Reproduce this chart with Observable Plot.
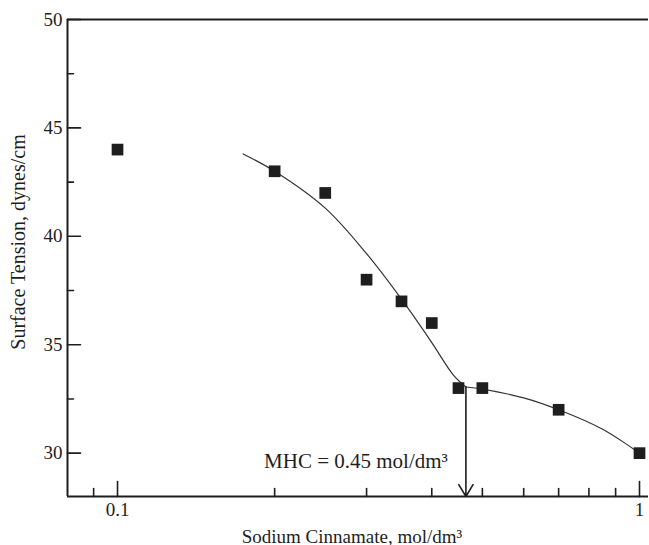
<!DOCTYPE html>
<html><head><meta charset="utf-8">
<script src="https://cdn.jsdelivr.net/npm/d3@7"></script>
<script src="https://cdn.jsdelivr.net/npm/@observablehq/plot@0.6"></script>
<style>
html,body{margin:0;padding:0;background:#fff;}
#chart svg{display:block;}
</style></head><body><div id="chart"></div>
<script>
// measured data (squares)
const concentration = [0.1, 0.2, 0.25, 0.3, 0.35, 0.4, 0.45, 0.5, 0.7, 1.0];
const surfaceTension = [44, 43, 42, 38, 37, 36, 33, 33, 32, 30];
// fitted curve (two branches meeting at the MHC)
const fitLowX = [0.174, 0.2, 0.25, 0.3, 0.35, 0.4, 0.44, 0.465];
const fitLowY = [43.8, 43.0, 41.3, 39.2, 37.1, 35.1, 33.6, 33.05];
const fitHighX = [0.465, 0.5, 0.6, 0.7, 0.85, 1.0];
const fitHighY = [33.05, 32.95, 32.55, 32.0, 31.1, 30.0];
// MHC annotation
const mhcX = 0.465;
const mhcLabel = "MHC = 0.45 mol/dm³";
// axes
const xDomain = [0.0802, 1.0405];
const yDomain = [28, 50];
const xMajorTicks = [0.1, 1];
const xMinorTicks = [0.09, 0.2, 0.3, 0.4, 0.5, 0.6, 0.7, 0.8, 0.9];
const yMajorTicks = [30, 35, 40, 45, 50];
const yMinorTicks = [32.5, 37.5, 42.5, 47.5];
const xTitle = "Sodium Cinnamate, mol/dm³";
const yTitle = "Surface Tension, dynes/cm";

const points = concentration.map((c, i) => ({c, t: surfaceTension[i]}));
const fitLow = fitLowX.map((c, i) => ({c, t: fitLowY[i]}));
const fitHigh = fitHighX.map((c, i) => ({c, t: fitHighY[i]}));

const ink = "#1e1e1e";
const tickShape = {draw(context, l) { context.moveTo(0, 0); context.lineTo(0, -l); }};
const tickOpts = {anchor: "start", shape: tickShape, stroke: ink, strokeWidth: 1.6};

const chart = Plot.plot({
  width: 649,
  height: 545,
  marginTop: 19,
  marginBottom: 49,
  marginLeft: 67,
  marginRight: 1,
  style: {fontFamily: "'Liberation Serif', 'Times New Roman', serif", fontSize: "19px", color: ink, background: "#fff"},
  x: {type: "log", domain: xDomain},
  y: {domain: yDomain},
  marks: [
    // frame lines
    Plot.ruleY([yDomain[1]], {stroke: ink, strokeWidth: 2}),
    Plot.ruleY([yDomain[0]], {stroke: ink, strokeWidth: 2}),
    Plot.ruleX([xDomain[0]], {stroke: ink, strokeWidth: 2}),
    // inward ticks
    Plot.vector(yMajorTicks, {y: d => d, frameAnchor: "left", length: 13, rotate: 90, ...tickOpts}),
    Plot.vector(yMinorTicks, {y: d => d, frameAnchor: "left", length: 6, rotate: 90, ...tickOpts}),
    Plot.vector(xMajorTicks, {x: d => d, frameAnchor: "bottom", length: 15, rotate: 0, ...tickOpts}),
    Plot.vector(xMinorTicks, {x: d => d, frameAnchor: "bottom", length: 8, rotate: 0, ...tickOpts}),
    // tick labels
    Plot.axisY({ticks: yMajorTicks, tickSize: 0, tickPadding: 5, label: null, fontSize: 19}),
    Plot.axisX({ticks: xMajorTicks, tickSize: 0, tickPadding: 6, tickFormat: d => String(d), label: null, fontSize: 19}),
    // axis titles
    Plot.text([yTitle], {frameAnchor: "left", text: d => d, rotate: -90, textAnchor: "middle", lineAnchor: "middle", dx: -49, dy: -16, fontSize: 20, fill: ink}),
    Plot.text([xTitle], {frameAnchor: "bottom", text: d => d, textAnchor: "middle", dy: 46, dx: -6, fontSize: 19, fill: ink}),
    // fitted curve
    Plot.line(fitLow, {x: "c", y: "t", curve: "catmull-rom", stroke: "#333", strokeWidth: 1.2}),
    Plot.line(fitHigh, {x: "c", y: "t", curve: "catmull-rom", stroke: "#333", strokeWidth: 1.2}),
    // MHC arrow and label
    Plot.arrow([mhcX], {x1: d => d, x2: d => d, y1: fitLowY[fitLowY.length - 1], y2: yDomain[0], headLength: 13, headAngle: 62, stroke: ink, strokeWidth: 1.6}),
    Plot.text([mhcLabel], {x: mhcX, frameAnchor: "bottom", text: d => d, textAnchor: "end", dx: -18, dy: -29, fontSize: 21, fill: ink}),
    // data squares
    Plot.dot(points, {x: "c", y: "t", symbol: "square", r: 6.6, fill: ink, stroke: "none"})
  ]
});
document.getElementById("chart").appendChild(chart);
</script></body></html>
